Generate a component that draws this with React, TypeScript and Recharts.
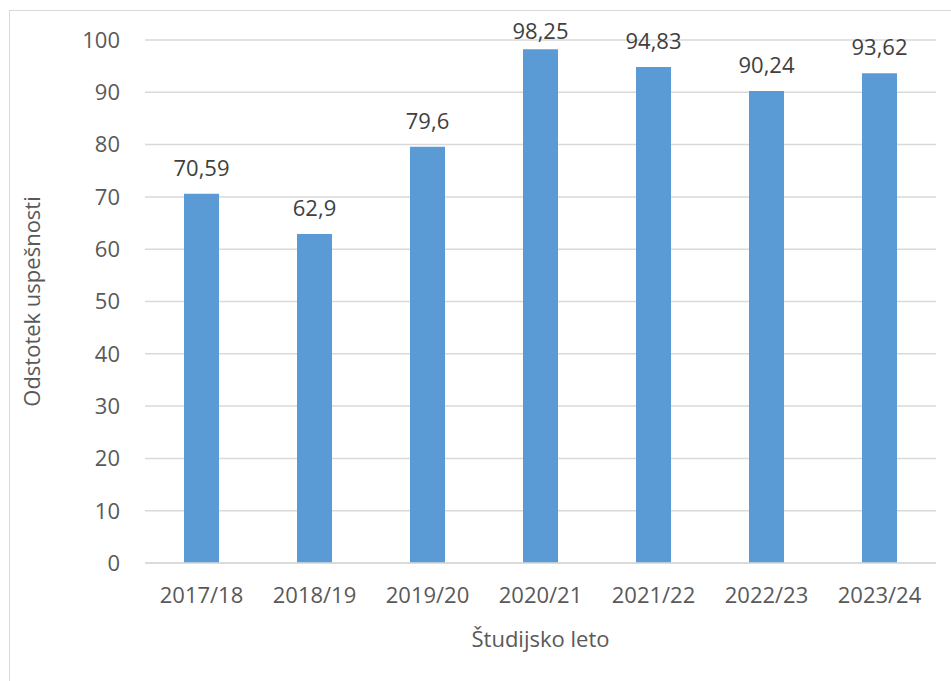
import React from "react";
import { BarChart, Bar, XAxis, YAxis, CartesianGrid, LabelList, Label } from "recharts";

const categories = ["2017/18", "2018/19", "2019/20", "2020/21", "2021/22", "2022/23", "2023/24"];
const values = [70.59, 62.9, 79.6, 98.25, 94.83, 90.24, 93.62];
const yTicks = [0, 10, 20, 30, 40, 50, 60, 70, 80, 90, 100];

const data = categories.map((c, i) => ({ name: c, value: values[i] }));

const FONT = "'Open Sans', sans-serif";
const fmt = (v: number) => String(v).replace(".", ",");

const BarValueLabel = (props: any) => {
  const { x, y, width, value } = props;
  const baseline = Math.max(Number(y) - 18, 39);
  return (
    <text x={Number(x) + Number(width) / 2} y={baseline} textAnchor="middle" fill="#404040" fontSize={22} fontFamily={FONT}>
      {fmt(value)}
    </text>
  );
};

export default function App() {
  return (
    <div style={{ position: "absolute", left: 0, top: 0, width: 951, height: 681, background: "#fff", fontFamily: FONT, overflow: "hidden" }}>
      <div style={{ position: "absolute", left: 9, top: 10, width: 960, height: 700, border: "1.5px solid #d9d9d9", boxSizing: "border-box" }} />
      <BarChart
        width={951}
        height={681}
        data={data}
        margin={{ top: 40, right: 15, bottom: 0, left: 0 }}
        style={{ position: "absolute", left: 0, top: 0 }}
      >
        <CartesianGrid vertical={false} stroke="#d9d9d9" strokeWidth={1.5} />
        <XAxis
          dataKey="name"
          axisLine={{ stroke: "#d9d9d9", strokeWidth: 1.5 }}
          tickLine={false}
          tickSize={0}
          tick={{ fill: "#595959", fontSize: 22, fontFamily: FONT }}
          tickMargin={24}
          height={118}
        >
          <Label value="Študijsko leto" position="insideBottom" offset={34} fill="#595959" fontSize={22} fontFamily={FONT} />
        </XAxis>
        <YAxis
          domain={[0, 100]}
          ticks={yTicks}
          interval={0}
          axisLine={false}
          tickLine={false}
          tickSize={0}
          tick={{ fill: "#595959", fontSize: 22, fontFamily: FONT }}
          tickMargin={25}
          width={145}
        >
          <Label value="Odstotek uspešnosti" angle={-90} position="center" dx={-40} fill="#595959" fontSize={22} fontFamily={FONT} />
        </YAxis>
        <Bar dataKey="value" fill="#5b9bd5" barSize={35} isAnimationActive={false}>
          <LabelList dataKey="value" content={<BarValueLabel />} />
        </Bar>
      </BarChart>
    </div>
  );
}
